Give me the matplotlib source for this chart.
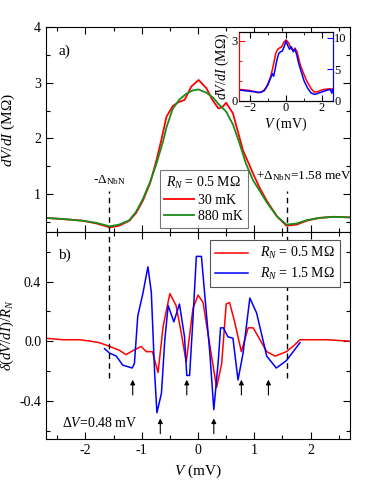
import matplotlib
matplotlib.use("Agg")
import matplotlib.pyplot as plt
from matplotlib.ticker import MultipleLocator

plt.rcParams['font.family'] = ['Liberation Serif', 'DejaVu Serif']
plt.rcParams['mathtext.fontset'] = 'custom'
plt.rcParams['mathtext.rm'] = 'Liberation Serif'
plt.rcParams['mathtext.it'] = 'Liberation Serif:italic'
plt.rcParams['font.size'] = 10

# ---- panel a data ----
V_red_a = [-2.70,-2.40,-2.05,-1.80,-1.57,-1.40,-1.22,-1.10,-0.98,-0.85,-0.74,-0.65,-0.56,-0.45,-0.35,-0.24,-0.12,0.01,0.15,0.25,0.36,0.43,0.50,0.62,0.70,0.80,0.90,0.98,1.10,1.22,1.40,1.57,1.75,1.93,2.15,2.40,2.70]
R_red_a = [0.57,0.55,0.52,0.47,0.40,0.43,0.52,0.66,0.88,1.20,1.60,1.98,2.39,2.58,2.65,2.69,2.93,3.05,2.90,2.70,2.54,2.56,2.64,2.45,2.15,1.78,1.55,1.36,1.10,0.88,0.60,0.43,0.45,0.52,0.57,0.59,0.58]
V_grn_a = [-2.70,-2.40,-2.05,-1.80,-1.57,-1.40,-1.22,-1.10,-0.98,-0.85,-0.74,-0.62,-0.56,-0.45,-0.33,-0.21,-0.10,0.01,0.15,0.27,0.36,0.50,0.62,0.74,0.85,0.98,1.10,1.22,1.40,1.57,1.75,1.93,2.15,2.40,2.70]
R_grn_a = [0.57,0.55,0.52,0.48,0.42,0.45,0.53,0.68,0.91,1.22,1.54,1.95,2.20,2.53,2.70,2.80,2.86,2.88,2.82,2.73,2.62,2.48,2.25,1.90,1.55,1.24,1.05,0.85,0.60,0.45,0.47,0.53,0.57,0.59,0.58]

# ---- inset data (blue, right axis) ----
V_blue_in = [-2.6,-2.3,-2.0,-1.7,-1.4,-1.2,-1.0,-0.85,-0.75,-0.68,-0.6,-0.5,-0.4,-0.3,-0.2,-0.1,0.0,0.1,0.2,0.3,0.4,0.5,0.6,0.7,0.85,1.0,1.2,1.4,1.6,1.9,2.2,2.45,2.55,2.6]
R_blue_in = [1.7,1.6,1.5,1.4,1.3,1.6,2.5,3.6,4.3,3.9,5.0,6.5,7.5,7.8,7.9,8.6,9.5,8.8,8.2,8.6,7.8,8.2,7.3,6.0,4.6,3.2,2.0,1.2,1.0,1.3,1.6,1.8,1.2,1.8]

# ---- panel b data ----
V_red_b = [-2.7,-2.4,-2.1,-1.9,-1.75,-1.57,-1.40,-1.28,-1.19,-1.01,-0.92,-0.81,-0.71,-0.62,-0.50,-0.39,-0.30,-0.21,-0.09,0.0,0.09,0.21,0.33,0.42,0.50,0.56,0.65,0.77,0.89,0.98,1.13,1.22,1.37,1.57,1.70,1.81,2.0,2.3,2.7]
d_red_b = [0.02,0.01,0.01,0.0,-0.01,-0.035,-0.06,-0.09,-0.07,-0.035,-0.07,-0.07,-0.21,0.10,0.32,0.24,0.06,-0.14,0.22,0.31,0.26,-0.03,-0.31,-0.15,0.25,0.26,0.13,-0.07,0.09,0.09,-0.01,-0.07,-0.10,-0.07,-0.03,0.01,0.01,0.01,0.0]
V_blue_b = [-1.66,-1.57,-1.45,-1.34,-1.17,-1.13,-1.07,-0.98,-0.89,-0.83,-0.77,-0.73,-0.65,-0.59,-0.53,-0.43,-0.33,-0.24,-0.20,-0.15,-0.09,-0.03,0.06,0.12,0.21,0.28,0.36,0.40,0.45,0.53,0.62,0.71,0.80,0.92,1.04,1.22,1.39,1.57,1.81]
d_blue_b = [-0.05,-0.08,-0.10,-0.16,-0.18,-0.15,0.17,0.32,0.50,0.33,-0.22,-0.48,-0.35,0.01,0.24,0.13,0.25,0.03,-0.23,-0.23,0.15,0.57,0.57,0.31,-0.08,-0.46,-0.13,0.09,0.09,0.03,0.02,-0.26,-0.08,0.29,0.19,-0.10,-0.18,-0.13,-0.01]

arrow_up_V = [-1.16, -0.20, 0.77, 1.25]
arrow_low_V = [-0.67, 0.28]
delta_nbn = 1.58

fig = plt.figure(figsize=(3.74, 4.84), dpi=100)
axa = fig.add_axes([0.123, 0.521, 0.813, 0.423])
axb = fig.add_axes([0.123, 0.092, 0.813, 0.429], sharex=axa)

def style(ax):
    ax.tick_params(which='both', direction='in', top=True, right=True, labelsize=10)
    ax.tick_params(which='major', length=5, width=0.8)
    ax.tick_params(which='minor', length=3, width=0.8)

# panel a
axa.plot(V_red_a, R_red_a, color='red', lw=1.3, label='30 mK')
axa.plot(V_grn_a, R_grn_a, color='#1a8c1a', lw=1.3, label='880 mK')
axa.set_xlim(-2.7, 2.7)
axa.set_ylim(0.32, 4.0)
axa.xaxis.set_major_locator(MultipleLocator(1))
axa.xaxis.set_minor_locator(MultipleLocator(0.5))
axa.yaxis.set_major_locator(MultipleLocator(1))
axa.yaxis.set_minor_locator(MultipleLocator(0.5))
axa.set_yticks([1, 2, 3, 4])
style(axa)
plt.setp(axa.get_xticklabels(), visible=False)
axa.set_ylabel('$dV/dI$ (MΩ)', fontsize=11)
axa.yaxis.set_label_coords(-0.095, 0.5)
axa.vlines([-delta_nbn, delta_nbn], 0.32, 1.05, colors='black', linestyles=(0, (4, 3)), lw=1)
axa.text(-delta_nbn, 1.12, r'-$\Delta_{\rm NbN}$', ha='center', va='bottom', fontsize=9.5)
axa.text(1.88, 1.2, r'+$\Delta_{\rm NbN}$=1.58 meV', ha='center', va='bottom', fontsize=9.5)
axa.text(-2.37, 3.56, 'a)', fontsize=11, ha='center', va='center')
leg = axa.legend(title='$R_N$ = 0.5 MΩ', loc='lower left', bbox_to_anchor=(0.36, 0.0),
                 fontsize=10, title_fontsize=10, frameon=True, fancybox=False,
                 edgecolor='#555555', handlelength=2.1, handletextpad=0.3, borderpad=0.35,
                 labelspacing=0.2, borderaxespad=0.3)
leg.get_frame().set_linewidth(0.8)

# inset
axi = fig.add_axes([0.639, 0.792, 0.251, 0.142])
axi.plot(V_red_a, R_red_a, color='red', lw=1.1)
axi.set_xlim(-2.6, 2.6)
axi.set_ylim(0, 3.45)
axi.set_yticks([0, 3])
axi.yaxis.set_minor_locator(MultipleLocator(1))
axi.set_xticks([-2, 0, 2])
axi.xaxis.set_minor_locator(MultipleLocator(1))
axi.tick_params(which='both', direction='in', top=True, labelsize=9, pad=1)
axi.tick_params(which='major', length=4)
axi.tick_params(which='minor', length=2.5)
axi.spines['left'].set_color('red')
axi.tick_params(axis='y', which='both', color='red')
axi.set_xlabel('$V$ (mV)', fontsize=10, labelpad=1)
axi.set_ylabel('$dV/dI$ (MΩ)', fontsize=10, labelpad=0)
axr = axi.twinx()
axr.plot(V_blue_in, R_blue_in, color='blue', lw=1.1)
axr.set_ylim(0, 10.96)
axr.set_yticks([0, 5, 10])
axr.tick_params(which='both', direction='in', labelsize=9, pad=1, color='blue', length=4)
axr.spines['right'].set_color('blue')
axr.spines['left'].set_color('red')

# panel b
axb.plot(V_red_b, d_red_b, color='red', lw=1.1, label='$R_N$ = 0.5 MΩ')
axb.plot(V_blue_b, d_blue_b, color='blue', lw=1.1, label='$R_N$ = 1.5 MΩ')
axb.set_ylim(-0.66, 0.735)
axb.yaxis.set_major_locator(MultipleLocator(0.4))
axb.yaxis.set_minor_locator(MultipleLocator(0.2))
style(axb)
axb.set_yticks([-0.4, 0.0, 0.4])
axb.set_yticklabels(['-0.4', '0.0', '0.4'])
axb.set_xticks([-2, -1, 0, 1, 2])
axb.set_xticklabels(['-2', '-1', '0', '1', '2'])
axb.set_xlabel('$V$ (mV)', fontsize=11)
axb.set_ylabel(r'$\delta(dV/dI)/R_N$', fontsize=10.5)
axb.yaxis.set_label_coords(-0.098, 0.5)
axb.vlines([-delta_nbn, delta_nbn], -0.25, 0.735, colors='black', linestyles=(0, (4, 3)), lw=1)
for v in arrow_up_V:
    axb.annotate('', xy=(v, -0.24), xytext=(v, -0.38),
                 arrowprops=dict(arrowstyle='-|>', color='black', lw=0.8, mutation_scale=7))
for v in arrow_low_V:
    axb.annotate('', xy=(v, -0.50), xytext=(v, -0.64),
                 arrowprops=dict(arrowstyle='-|>', color='black', lw=0.8, mutation_scale=7))
axb.text(-2.42, -0.55, r'$\Delta V$=0.48 mV', fontsize=10, va='center')
axb.text(-2.37, 0.58, 'b)', fontsize=11, ha='center', va='center')
legb = axb.legend(loc='upper right', bbox_to_anchor=(0.99, 0.995), fontsize=10, frameon=True,
                  fancybox=False, edgecolor='#555555', handlelength=2.4, borderpad=0.4,
                  labelspacing=0.3, framealpha=1)
legb.get_frame().set_linewidth(0.8)
legb.set_zorder(5)

fig.savefig('out.png', dpi=100)
